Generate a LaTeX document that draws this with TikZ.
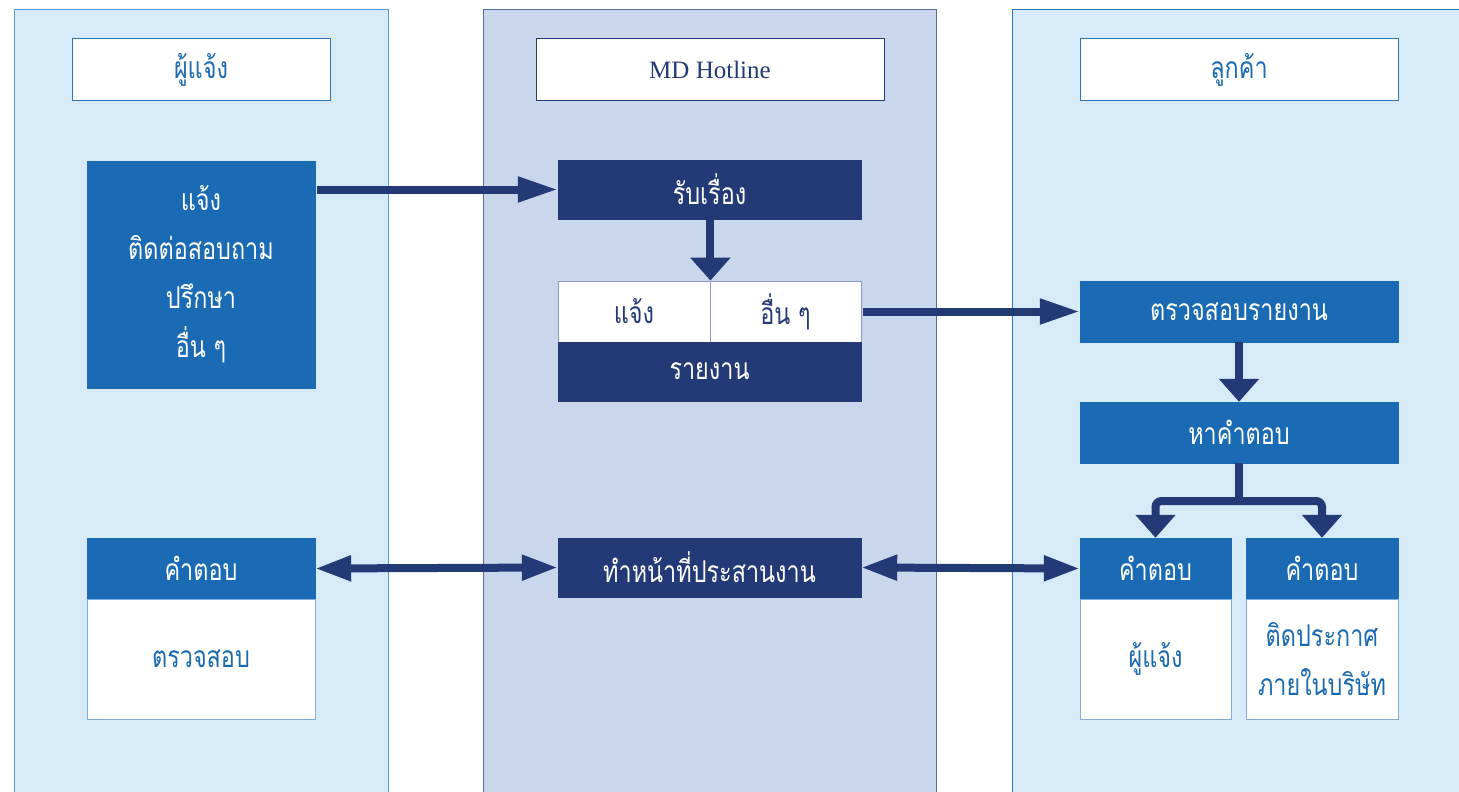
\documentclass[tikz,border=0pt]{standalone}
\usepackage{fontspec}
\setmainfont{Liberation Serif}
\newfontfamily\thai[Script=Thai,FakeStretch=0.78]{Loma}
\usetikzlibrary{arrows.meta}
\definecolor{panelL}{HTML}{D6EBF7}
\definecolor{panelM}{HTML}{C9D6EC}
\definecolor{blueF}{HTML}{1A6BB3}
\definecolor{navy}{HTML}{243A77}
\definecolor{panelLine}{HTML}{5B9BD5}
\definecolor{midLine}{HTML}{5A6B9E}
\definecolor{rightLine}{HTML}{2E75B6}
\definecolor{cellLine}{HTML}{8A9BBF}
\definecolor{bodyLine}{HTML}{7FAEDB}
\tikzset{
  th/.style={font=\thai\fontsize{30}{49}\selectfont},
  hdr/.style={draw=rightLine, line width=1pt, fill=white, text=blueF, th, minimum width=#1, minimum height=61pt, inner sep=0pt},
  bluebox/.style={draw=blueF, fill=blueF, text=white, th, minimum width=#1, inner sep=0pt, align=center},
  navybox/.style={draw=navy, fill=navy, text=white, th, minimum width=#1, inner sep=0pt},
  cell/.style={draw=cellLine, line width=0.8pt, fill=white, text=navy, th, minimum width=#1, minimum height=61pt, inner sep=0pt},
  body/.style={draw=bodyLine, line width=1pt, fill=white, text=blueF, th, minimum width=#1, minimum height=120pt, inner sep=0pt, align=center},
  hconn/.style={draw=navy, line width=8pt, -{Triangle[length=40pt,width=24pt]}},
  vconn/.style={draw=navy, line width=8pt, -{Triangle[length=23pt,width=39pt]}},
  dconn/.style={draw=navy, line width=8pt, {Triangle[length=36pt,width=24pt]}-{Triangle[length=36pt,width=24pt]}},
}
\begin{document}
\begin{tikzpicture}[x=1pt,y=-1pt]
\useasboundingbox (0,0) rectangle (1459,792);
% panels
\fill[panelL] (14,10) rectangle (388,800);
\draw[panelLine, line width=1pt] (14,800) -- (14,10) -- (388,10) -- (388,800);
\fill[panelM] (483,10) rectangle (936,800);
\draw[midLine, line width=1pt] (483,800) -- (483,10) -- (936,10) -- (936,800);
\fill[panelL] (1012,10) rectangle (1470,800);
\draw[rightLine, line width=1pt] (1012,800) -- (1012,10) -- (1470,10);
% headers
\node[hdr=258pt] (hL) at (201,69.5) {ผู้แจ้ง};
\node[hdr=348pt, draw=navy, text=navy, font=\fontsize{25}{30}\selectfont] (hM) at (710,69.5) {MD Hotline};
\node[hdr=318pt] (hR) at (1239,69.5) {ลูกค้า};
% left
\node[bluebox=228pt, minimum height=227pt] (inform) at (201,274.5) {แจ้ง\\ติดต่อสอบถาม\\ปรึกษา\\อื่น ๆ};
\node[bluebox=228pt, minimum height=61pt] (ans0) at (201,568.5) {คำตอบ};
\node[body=228pt] (body0) at (201,659) {ตรวจสอบ};
% middle
\node[navybox=303pt, minimum height=59pt] (recv) at (709.5,189.5) {รับเรื่อง};
\node[cell=152pt] (c1) at (634,311.5) {แจ้ง};
\node[cell=151pt] (c2) at (785.5,311.5) {อื่น ๆ};
\node[navybox=303pt, minimum height=59pt] (report) at (709.5,371.5) {รายงาน};
\node[navybox=303pt, minimum height=59pt] (coord) at (709.5,567.5) {ทำหน้าที่ประสานงาน};
% right
\node[bluebox=318pt, minimum height=61pt] (check) at (1239,311.5) {ตรวจสอบรายงาน};
\node[bluebox=318pt, minimum height=61pt] (find) at (1239,432.5) {หาคำตอบ};
\node[bluebox=151pt, minimum height=61pt] (ans1) at (1155.5,568.5) {คำตอบ};
\node[body=151pt] (body1) at (1155.5,659) {ผู้แจ้ง};
\node[bluebox=152pt, minimum height=61pt] (ans2) at (1322,568.5) {คำตอบ};
\node[body=152pt] (body2) at (1322,659) {ติดประกาศ\\ภายในบริษัท};
% connectors
\draw[hconn] ([xshift=2pt]inform.east |- recv.west) -- (recv.west);
\draw[vconn] (recv.south -| c1.north east) -- (c1.north east);
\draw[hconn] ([xshift=2pt]c2.east) -- (check.west);
\draw[vconn] (check.south) -- (find.north);
\coordinate (split) at (1239,501);
\draw[navy, line width=8pt] (find.south) -- (split);
\draw[vconn, rounded corners=6pt] (split) -| (ans1.north);
\draw[vconn, rounded corners=6pt] (split) -| (ans2.north);
\draw[dconn] (ans0.east) -- (coord.west);
\draw[dconn] (coord.east) -- (ans1.west);
\end{tikzpicture}
\end{document}
